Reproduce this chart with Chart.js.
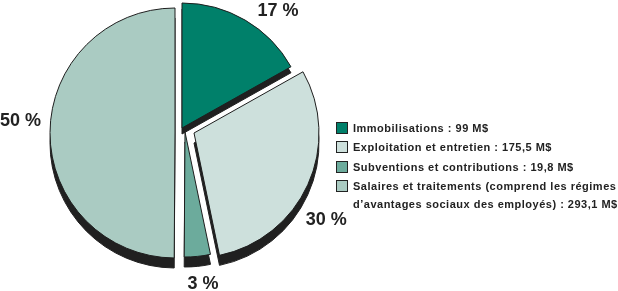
<!DOCTYPE html>
<html lang="fr">
<head>
<meta charset="utf-8">
<script src="https://cdn.jsdelivr.net/npm/chart.js@4.4.1/dist/chart.umd.min.js"></script>
<style>
  html, body { margin: 0; padding: 0; background: #fff; }
  #wrap { position: relative; width: 618px; height: 291px; overflow: hidden; }
  #c { position: absolute; left: 0; top: 0; }
  .lg { position: absolute; left: 336px; font: bold 11px "Liberation Sans", Arial, sans-serif; letter-spacing: 0.5px; color: #222; white-space: nowrap; }
  .lg .row { position: absolute; left: 0; height: 12px; line-height: 12px; }
  .lg .box { position: absolute; left: 0; top: 0; width: 10px; height: 10px; border: 1px solid #222; }
  .lg .txt { position: absolute; left: 17px; top: 0; }
</style>
</head>
<body>
<div id="wrap">
  <canvas id="c" width="618" height="291"></canvas>
  <div class="lg" id="legend"></div>
</div>
<script>
// ---- data ----
const categories = [
  'Immobilisations : 99 M$',
  'Exploitation et entretien : 175,5 M$',
  'Subventions et contributions : 19,8 M$',
  'Salaires et traitements (comprend les régimes'
];
const categoryContinuation = ['', '', '', 'd’avantages sociaux des employés) : 293,1 M$'];
const amounts = [99, 175.5, 19.8, 293.1];

// ---- style ----
const colors = ['#00806a', '#cde0dc', '#6cab9c', '#aacbc2'];
const borderColor = '#1e1e1e';
const shadowColor = '#202020';
const sliceShift = [[7, -5], [19, 0], [10, -1], [0, 0]];
const shadowDepth = [6, 10, 10, 10];
const labelTurn = [8.8, 8.7, -1.1, 4.6];
const labelDist = [152, 158, 152, 155];
const legendRowTop = [122, 141, 160.5, 179.5];
const legendLineGap = 18;

const total = amounts.reduce((a, b) => a + b, 0);
const percentLabels = amounts.map(v => Math.round(v / total * 100) + ' %');

// legend (HTML text)
const lg = document.getElementById('legend');
categories.forEach((cat, i) => {
  const row = document.createElement('div');
  row.className = 'row';
  row.style.top = legendRowTop[i] + 'px';
  const box = document.createElement('div');
  box.className = 'box';
  box.style.background = colors[i];
  const t = document.createElement('div');
  t.className = 'txt';
  t.textContent = cat;
  row.appendChild(box); row.appendChild(t);
  lg.appendChild(row);
  if (categoryContinuation[i]) {
    const t2 = document.createElement('div');
    t2.className = 'txt';
    t2.style.top = legendLineGap + 'px';
    t2.textContent = categoryContinuation[i];
    row.appendChild(t2);
  }
});

const explodedPie = {
  id: 'explodedPie',
  beforeDatasetDraw(chart, args) {
    const ctx = chart.ctx;
    const meta = chart.getDatasetMeta(args.index);
    // shadows first
    meta.data.forEach((arc, i) => {
      const ghost = Object.create(arc);
      ghost.options = Object.assign({}, arc.options, { backgroundColor: shadowColor, borderColor: shadowColor });
      ctx.save();
      ctx.translate(sliceShift[i][0], sliceShift[i][1] + shadowDepth[i]);
      arc.draw.call(ghost, ctx);
      ctx.restore();
    });
    meta.data.forEach((arc, i) => {
      ctx.save();
      ctx.translate(sliceShift[i][0], sliceShift[i][1]);
      arc.draw(ctx);
      ctx.restore();
    });
    return false;
  },
  afterDatasetsDraw(chart) {
    const ctx = chart.ctx;
    const meta = chart.getDatasetMeta(0);
    ctx.save();
    ctx.font = 'bold 18px "Liberation Sans", Arial, sans-serif';
    ctx.fillStyle = '#222';
    ctx.textAlign = 'center';
    ctx.textBaseline = 'middle';
    meta.data.forEach((arc, i) => {
      const mid = (arc.startAngle + arc.endAngle) / 2 + labelTurn[i] * Math.PI / 180;
      const x = arc.x + sliceShift[i][0] + Math.cos(mid) * labelDist[i];
      const y = arc.y + sliceShift[i][1] + Math.sin(mid) * labelDist[i];
      ctx.fillText(percentLabels[i], x, y + 1);
    });
    ctx.restore();
  }
};

new Chart(document.getElementById('c'), {
  type: 'pie',
  data: {
    labels: categories,
    datasets: [{
      data: amounts,
      backgroundColor: colors,
      borderColor: borderColor,
      borderWidth: 1
    }]
  },
  options: {
    responsive: false,
    animation: false,
    events: [],
    radius: 125,
    layout: { padding: { left: 50, top: 8, right: 318, bottom: 33 } },
    plugins: { legend: { display: false }, tooltip: { enabled: false } }
  },
  plugins: [explodedPie]
});
</script>
</body>
</html>
